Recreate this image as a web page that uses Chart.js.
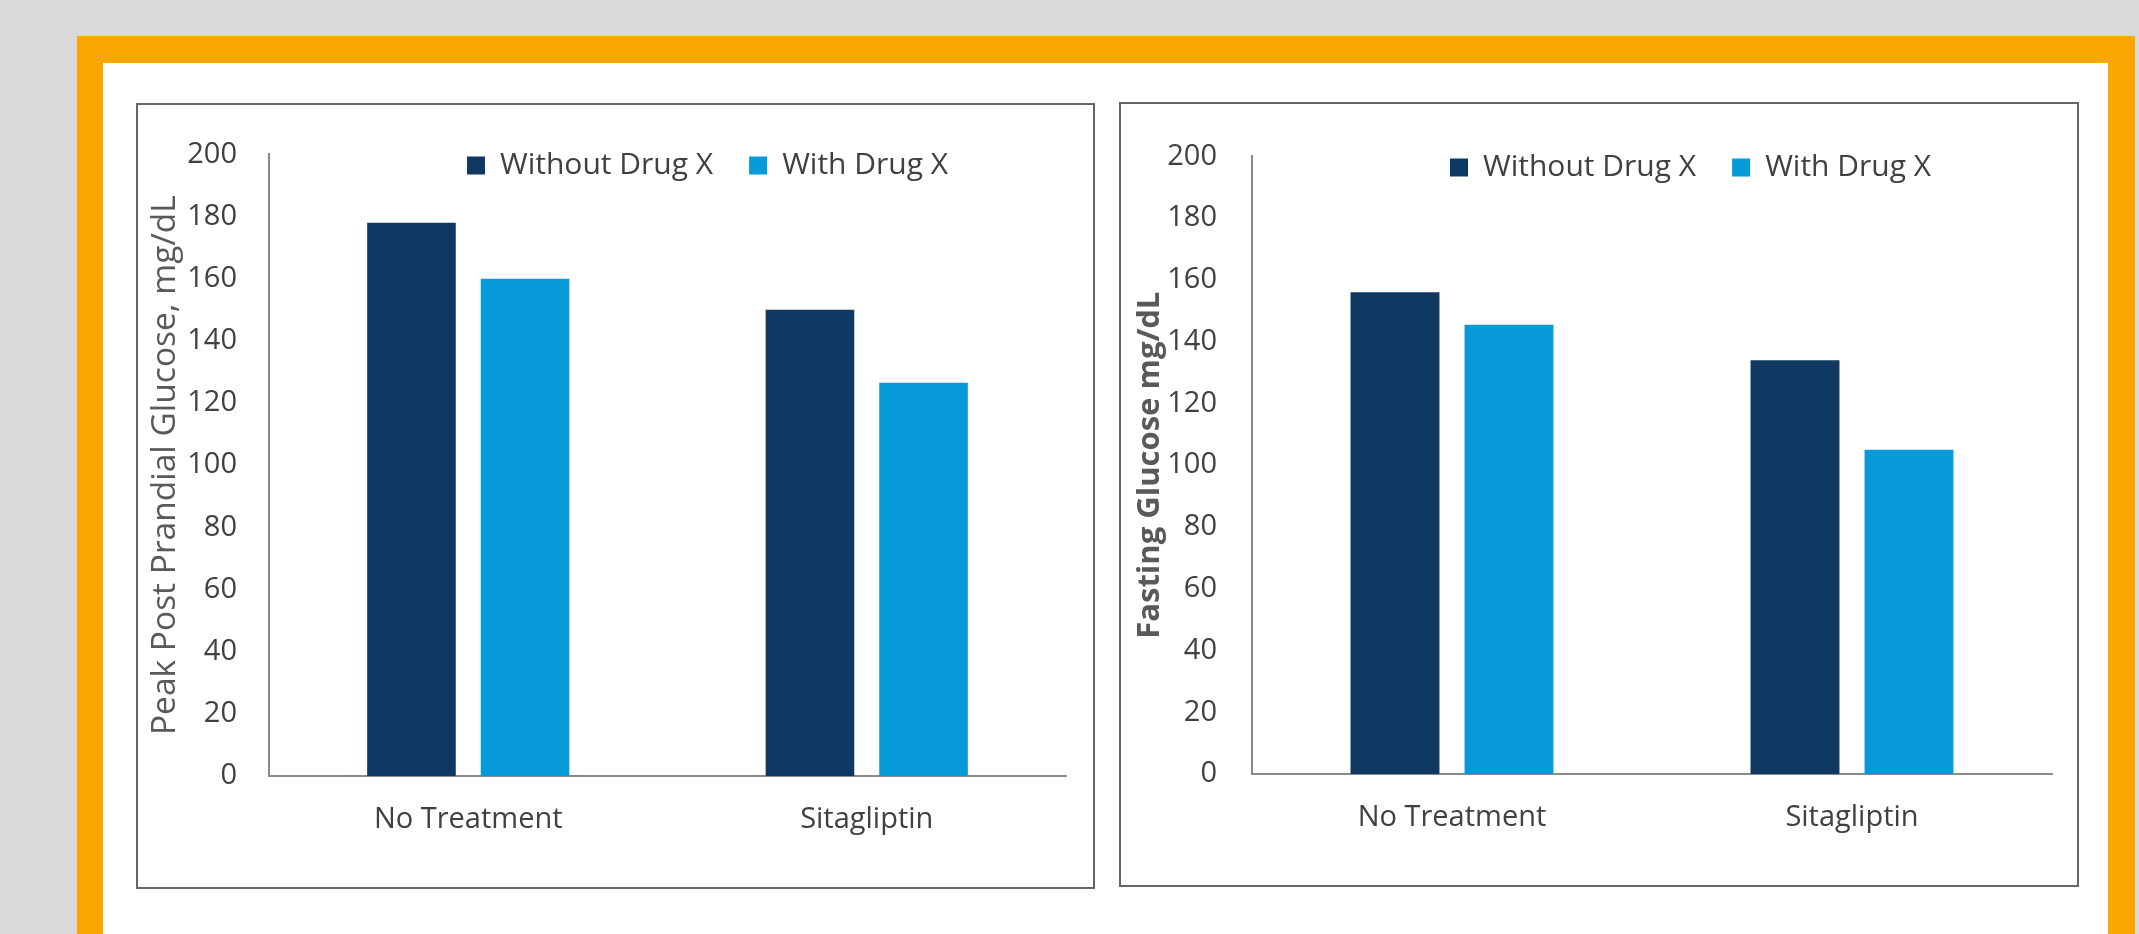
<!DOCTYPE html>
<html>
<head>
<meta charset="utf-8">
<script src="https://cdn.jsdelivr.net/npm/chart.js@4.4.1/dist/chart.umd.min.js"></script>
<style>
  body { margin: 0; width: 2139px; height: 934px; overflow: hidden; position: relative; background: #d9d9d9; }
  .frame { position: absolute; left: 77px; top: 36px; width: 2005px; height: 910px; background: #fff;
           border-left: 26px solid #f9a602; border-top: 27px solid #f9a602; border-right: 27px solid #f9a602; }
  .panel { position: absolute; box-sizing: border-box; border: 2px solid #666; background: #fff; }
  .panel canvas { position: absolute; left: 0; top: 0; }
</style>
</head>
<body>
<div class="frame"></div>
<div class="panel" style="left:136px; top:103px; width:959px; height:786px;">
  <canvas id="peakChart" width="955" height="782"></canvas>
</div>
<div class="panel" style="left:1119px; top:102px; width:960px; height:785px;">
  <canvas id="fastingChart" width="956" height="781"></canvas>
</div>
<script>
// groups and series
const categories = ['No Treatment', 'Sitagliptin'];
const seriesNames = ['Without Drug X', 'With Drug X'];
const seriesColors = ['#0f3862', '#079ad8'];

// peak post prandial glucose, mg/dL
const peakWithout = [178, 150];
const peakWith = [160, 126.5];

// fasting glucose, mg/dL
const fastingWithout = [156, 134];
const fastingWith = [145.5, 105];

// value axis
const yMin = 0;
const yMax = 200;
const yStep = 20;

const FONT = '"Open Sans", "DejaVu Sans", sans-serif';
const LEGEND_SIZE = 30;
const LEGEND_PAD = 36;

// moves the legend into the plot area, next to the top of the value axis
const legendPlacer = {
  id: 'legendPlacer',
  beforeDraw(chart, args, opts) {
    const lg = chart.legend;
    const area = chart.chartArea;
    lg.left = area.left + opts.dx - LEGEND_PAD;
    lg.right = chart.width;
    lg.top = area.top + opts.dy - LEGEND_SIZE / 2 - LEGEND_PAD;
    lg.bottom = lg.top + LEGEND_SIZE + LEGEND_PAD * 2;
    lg.width = lg.right - lg.left;
    lg.height = lg.bottom - lg.top;
  }
};

function buildChart(id, without, withX, cfg) {
  const titleLine = cfg.titleSize * 1.2;
  return new Chart(document.getElementById(id), {
    type: 'bar',
    data: {
      labels: categories,
      datasets: [
        { label: seriesNames[0], data: without, backgroundColor: seriesColors[0] },
        { label: seriesNames[1], data: withX, backgroundColor: seriesColors[1] }
      ]
    },
    options: {
      responsive: false,
      animation: false,
      categoryPercentage: 0.57,
      barPercentage: 0.78,
      layout: { padding: { top: 0, right: cfg.right, left: 0, bottom: 0 } },
      plugins: {
        tooltip: { enabled: false },
        legend: {
          position: 'top',
          align: 'start',
          // the legend box only reserves the gap above the plot area
          maxHeight: cfg.top,
          labels: {
            boxWidth: 18,
            boxHeight: 18,
            padding: LEGEND_PAD,
            color: '#404040',
            font: { family: FONT, size: LEGEND_SIZE }
          }
        },
        legendPlacer: { dx: 198, dy: 11 }
      },
      scales: {
        x: {
          grid: { display: false, drawTicks: false },
          border: { display: true, color: '#8a8a8a', width: 2 },
          ticks: { color: '#404040', padding: cfg.labelPad, font: { family: FONT, size: 29 } },
          afterFit(scale) { scale.height = cfg.xHeight; }
        },
        y: {
          min: yMin,
          max: yMax,
          grid: { display: false, drawTicks: false },
          border: { display: true, color: '#8a8a8a', width: 2 },
          ticks: { stepSize: yStep, color: '#404040', padding: cfg.tickPad, font: { family: FONT, size: 29 } },
          title: {
            display: true,
            text: cfg.title,
            color: '#595959',
            font: { family: FONT, size: cfg.titleSize, weight: cfg.titleWeight, lineHeight: 1.2 },
            padding: { top: cfg.titleX - titleLine / 2, bottom: 0 }
          },
          afterFit(scale) { scale.width = cfg.yWidth; }
        }
      }
    },
    plugins: [legendPlacer]
  });
}

buildChart('peakChart', peakWithout, peakWith, {
  title: 'Peak Post Prandial Glucose, mg/dL',
  titleSize: 33.5, titleWeight: 'normal', titleX: 27,
  top: 38, right: 27, yWidth: 131, xHeight: 111, tickPad: 32, labelPad: 26
});

buildChart('fastingChart', fastingWithout, fastingWith, {
  title: 'Fasting Glucose mg/dL',
  titleSize: 31, titleWeight: 'bold', titleX: 29,
  top: 39, right: 25, yWidth: 131, xHeight: 111, tickPad: 35, labelPad: 26
});
</script>
</body>
</html>
